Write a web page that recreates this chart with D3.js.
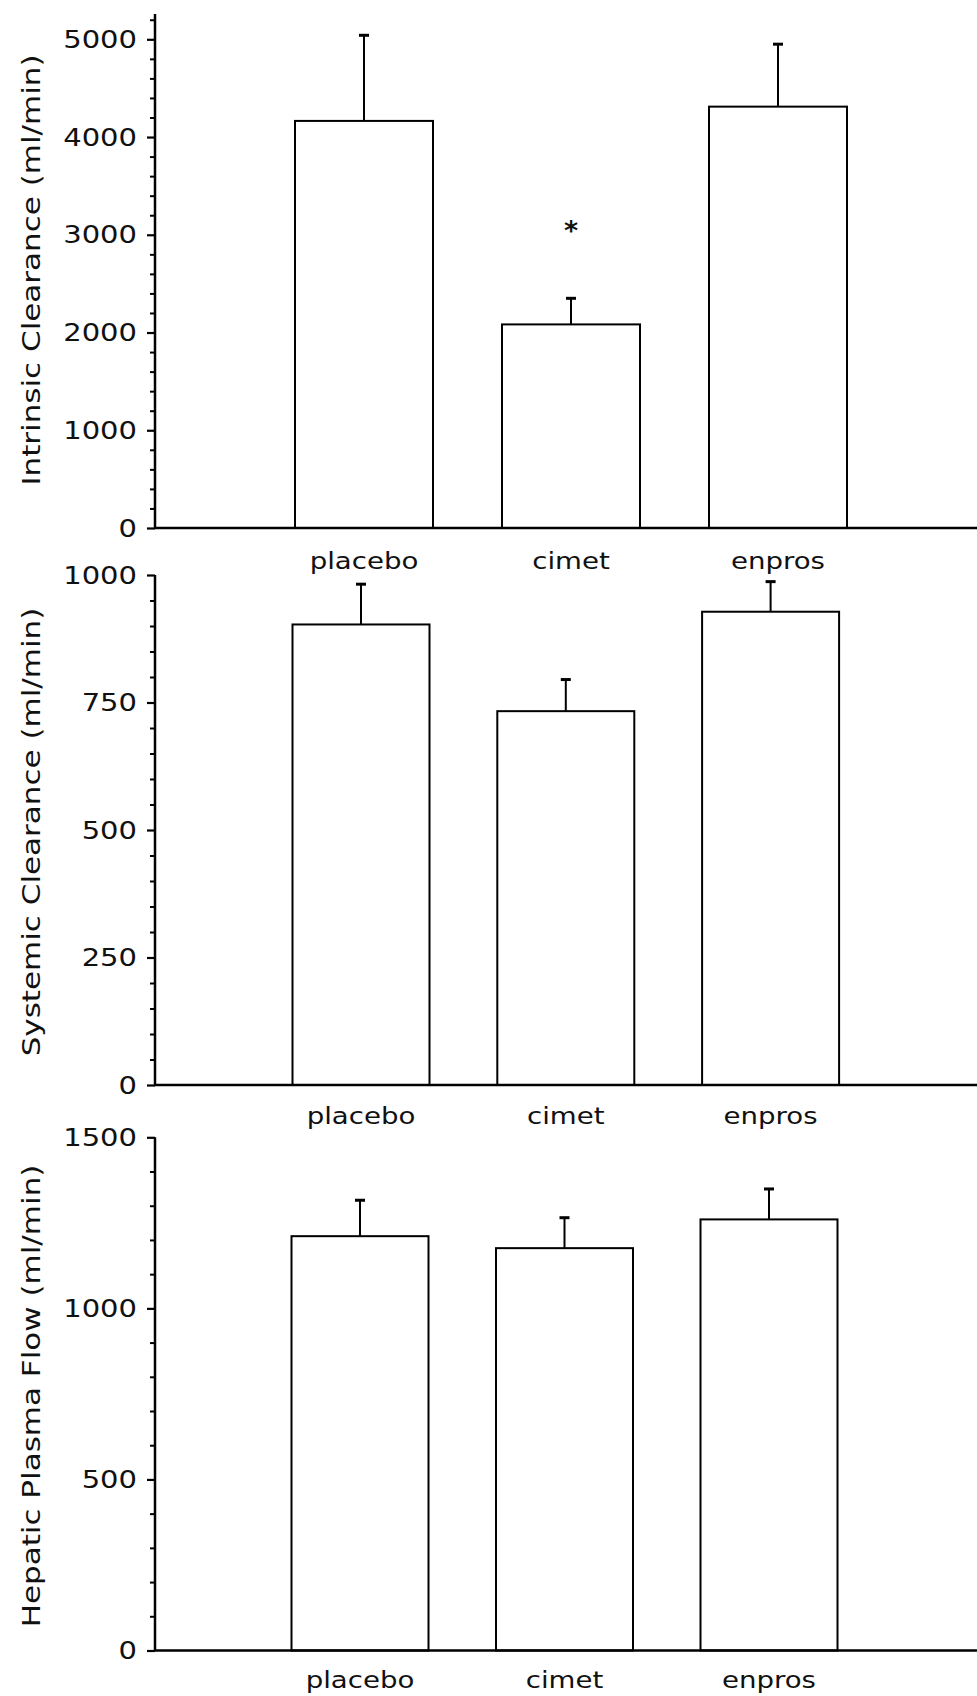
<!DOCTYPE html>
<html>
<head>
<meta charset="utf-8">
<script src="https://cdn.jsdelivr.net/npm/d3@7"></script>
<style>
  html, body { margin: 0; padding: 0; background: #fff; }
  svg { display: block; }
  text { font-family: "DejaVu Sans", sans-serif; fill: #111; }
</style>
</head>
<body>
<svg id="chart" width="977" height="1696"></svg>
<script>
// ---------------- data ----------------
const categories = ["placebo", "cimet", "enpros"];

const intrinsicMean = [4165, 2083, 4311];
const intrinsicSEM  = [876, 267, 639];
const systemicMean  = [903, 733, 928];
const systemicSEM   = [79, 62, 59];
const hepaticMean   = [1211, 1176, 1260];
const hepaticSEM    = [105, 89, 89];

const intrinsicTicks = [0, 1000, 2000, 3000, 4000, 5000];
const systemicTicks  = [0, 250, 500, 750, 1000];
const hepaticTicks   = [0, 500, 1000, 1500];

const yTitles = ["Intrinsic Clearance (ml/min)", "Systemic Clearance (ml/min)", "Hepatic Plasma Flow (ml/min)"];
const significance = [{ panel: 0, category: "cimet", value: 3115, mark: "*" }];

// ---------------- layout (positions / styles) ----------------
const svg = d3.select("#chart");
const axisX = 155;
const rightEdge = 977;

const panels = [
  { mean: intrinsicMean, sem: intrinsicSEM, ticks: intrinsicTicks, title: yTitles[0],
    base: 528, topPx: 39.3, max: 5000, axisTopVal: 5260, minorStep: 200, minorMax: 5200,
    xr: [260.5, 881.5], bw: 138, labelDy: 41, titleCy: 270 },
  { mean: systemicMean, sem: systemicSEM, ticks: systemicTicks, title: yTitles[1],
    base: 1085, topPx: 575, max: 1000, axisTopVal: 1000, minorStep: 50, minorMax: 1000,
    xr: [258.6, 873], bw: 137, labelDy: 39, titleCy: 832 },
  { mean: hepaticMean, sem: hepaticSEM, ticks: hepaticTicks, title: yTitles[2],
    base: 1650.5, topPx: 1137.3, max: 1500, axisTopVal: 1500, minorStep: 100, minorMax: 1500,
    xr: [257.75, 871.25], bw: 137, labelDy: 37, titleCy: 1396 }
];

function stretch(sel, factor) {
  sel.each(function () {
    const w = this.getComputedTextLength();
    d3.select(this).attr("textLength", w * factor).attr("lengthAdjust", "spacingAndGlyphs");
  });
}

panels.forEach((p, pi) => {
  const step = (p.xr[1] - p.xr[0]) / categories.length;
  const pad = 1 - p.bw / step;
  const x = d3.scaleBand().domain(categories).range(p.xr).paddingInner(pad).paddingOuter(pad / 2);
  const y = d3.scaleLinear().domain([0, p.max]).range([p.base, p.topPx]);

  const g = svg.append("g");

  // bars
  g.selectAll("rect.bar").data(categories).join("rect")
    .attr("class", "bar")
    .attr("x", d => x(d))
    .attr("width", x.bandwidth())
    .attr("y", (d, i) => y(p.mean[i]))
    .attr("height", (d, i) => p.base - y(p.mean[i]))
    .attr("fill", "#fff")
    .attr("stroke", "#000")
    .attr("stroke-width", 2);

  // error bars
  g.selectAll("line.err").data(categories).join("line")
    .attr("class", "err")
    .attr("x1", d => x(d) + x.bandwidth() / 2)
    .attr("x2", d => x(d) + x.bandwidth() / 2)
    .attr("y1", (d, i) => y(p.mean[i]))
    .attr("y2", (d, i) => y(p.mean[i] + p.sem[i]))
    .attr("stroke", "#000").attr("stroke-width", 2);
  g.selectAll("line.cap").data(categories).join("line")
    .attr("class", "cap")
    .attr("x1", d => x(d) + x.bandwidth() / 2 - 5)
    .attr("x2", d => x(d) + x.bandwidth() / 2 + 5)
    .attr("y1", (d, i) => y(p.mean[i] + p.sem[i]))
    .attr("y2", (d, i) => y(p.mean[i] + p.sem[i]))
    .attr("stroke", "#000").attr("stroke-width", 3);

  // y axis: minor ticks
  const minorVals = d3.range(0, p.minorMax + 1, p.minorStep).filter(v => !p.ticks.includes(v));
  const minor = g.append("g").attr("transform", `translate(${axisX},0)`)
    .call(d3.axisLeft(y).tickValues(minorVals).tickSize(5).tickSizeOuter(0).tickFormat(""));
  minor.select(".domain").remove();
  minor.selectAll(".tick line").attr("stroke", "#000").attr("stroke-width", 2).attr("x2", -5).attr("x1", 1);

  // y axis: major ticks
  const major = g.append("g").attr("transform", `translate(${axisX},0)`)
    .call(d3.axisLeft(y).tickValues(p.ticks).tickSize(8).tickSizeOuter(0).tickPadding(10).tickFormat(d3.format("d")));
  major.select(".domain").remove();
  major.selectAll(".tick line").attr("stroke", "#000").attr("stroke-width", 2.2);
  major.selectAll(".tick text")
    .style("font-size", "25px")
    .attr("fill", "#111");
  stretch(major.selectAll(".tick text"), 1.16);

  // y axis line
  g.append("line")
    .attr("x1", axisX).attr("x2", axisX)
    .attr("y1", p.base).attr("y2", y(p.axisTopVal))
    .attr("stroke", "#000").attr("stroke-width", 2.5);

  // x axis line
  g.append("line")
    .attr("x1", axisX - 1).attr("x2", rightEdge)
    .attr("y1", p.base).attr("y2", p.base)
    .attr("stroke", "#000").attr("stroke-width", 2.5);

  // category labels
  const lab = g.selectAll("text.cat").data(categories).join("text")
    .attr("class", "cat")
    .attr("x", d => x(d) + x.bandwidth() / 2)
    .attr("y", p.base + p.labelDy)
    .attr("text-anchor", "middle")
    .style("font-size", "23px")
    .text(d => d);
  stretch(lab, 1.2);

  // y title
  const t = g.append("text")
    .attr("transform", `translate(40,${p.titleCy}) rotate(-90)`)
    .attr("text-anchor", "middle")
    .style("font-size", "25px")
    .text(p.title);
  stretch(t, 1.24);

  // significance marks
  significance.filter(s => s.panel === pi).forEach(s => {
    g.append("text")
      .attr("x", x(s.category) + x.bandwidth() / 2)
      .attr("y", y(s.value) + 16)
      .attr("text-anchor", "middle")
      .style("font-size", "27px")
      .style("font-weight", "bold")
      .text(s.mark);
  });
});
</script>
</body>
</html>
